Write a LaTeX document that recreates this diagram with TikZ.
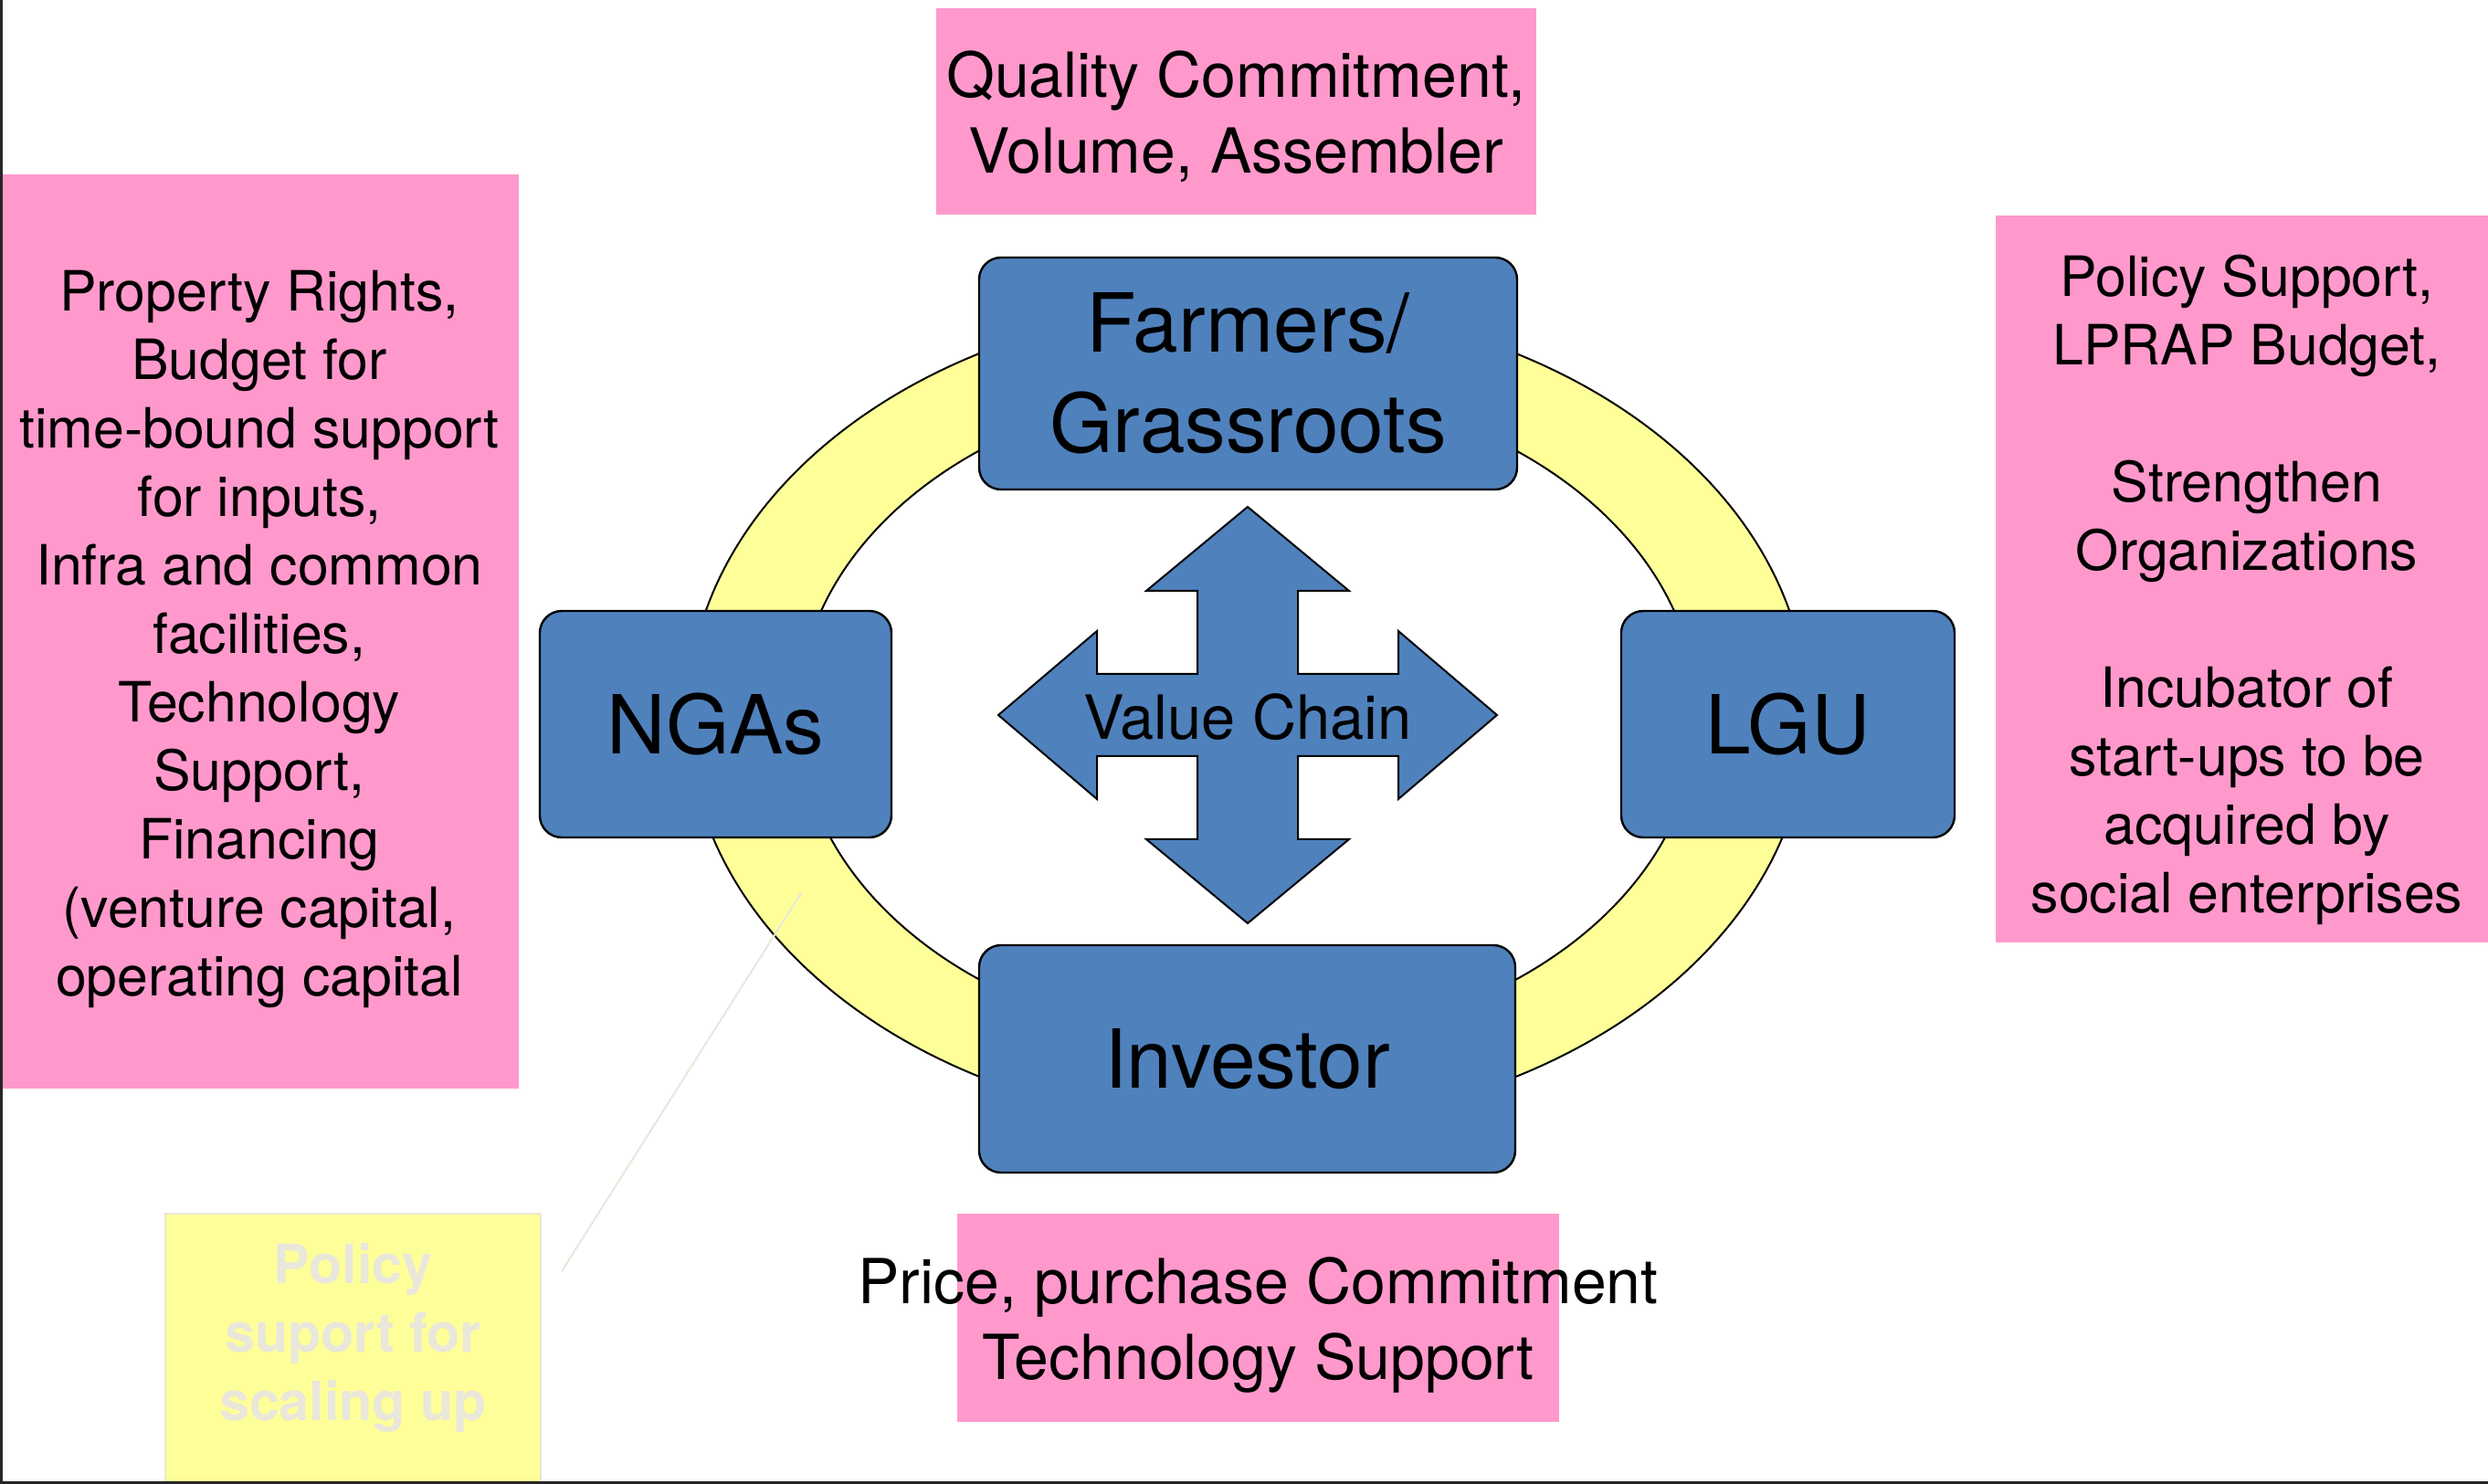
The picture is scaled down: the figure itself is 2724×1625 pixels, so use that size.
\documentclass[tikz,border=0pt]{standalone}
\usepackage{fontspec}
\setmainfont{TeX Gyre Heros}
\definecolor{pinkbox}{HTML}{FF99CC}
\definecolor{ringyellow}{HTML}{FFFF99}
\definecolor{bluebox}{HTML}{4F81BD}
\definecolor{ghost}{HTML}{EAE7DB}
\definecolor{framegray}{HTML}{262626}
\tikzset{
  pinkbox/.style={fill=pinkbox, inner sep=0pt},
  sidetext/.style={inner sep=0pt, align=center, font=\fontsize{15.2pt}{18.75pt}\selectfont},
  toptext/.style={inner sep=0pt, align=center, font=\fontsize{17pt}{20.75pt}\selectfont},
  bluebox/.style={fill=bluebox, draw=black, line width=0.6pt, rounded corners=6pt,
    inner sep=0pt, align=center, font=\fontsize{22.3pt}{27.5pt}\selectfont},
  ghostbox/.style={fill=ringyellow, draw=ghost, line width=0.6pt, inner sep=0pt},
  ghosttext/.style={inner sep=0pt, text=ghost, align=center, font=\bfseries\fontsize{14.8pt}{18.75pt}\selectfont},
  ghostline/.style={draw=ghost, line width=0.5pt},
  crossarrow/.style={fill=bluebox, draw=black, line width=0.5pt, line join=miter}
}
\begin{document}
\begin{tikzpicture}[x=0.25pt, y=-0.25pt]
\useasboundingbox (0,0) rectangle (2724,1625);
\fill[white] (0,0) rectangle (2724,1625);

% ring
\path[fill=ringyellow, draw=black, line width=0.5pt, even odd rule]
  (1366,783) ellipse [x radius=153.25pt, y radius=112.75pt]
  (1366,783) ellipse [x radius=123pt, y radius=90.25pt];

% connector from ghost box
\coordinate (ga) at (615,1392);
\coordinate (gb) at (877,978);
\draw[ghostline] (ga) -- (gb);

% pink boxes
\node[pinkbox, minimum width=142pt, minimum height=250.25pt] (pleft) at (284,691.5) {};
\node[sidetext] (plefttext) at (284,700)
 {Property Rights,\\Budget for\\time-bound support\\for inputs,\\Infra and common\\facilities,\\Technology\\Support,\\Financing\\(venture capital,\\operating capital};
\node[pinkbox, minimum width=134.75pt, minimum height=199pt] (pright) at (2454.5,634) {};
\node[sidetext] (prighttext) at (2460,646)
 {Policy Support,\\LPRAP Budget,\\[18.75pt]Strengthen\\Organizations\\[18.75pt]Incubator of\\start-ups to be\\acquired by\\social enterprises};
\node[pinkbox, minimum width=164.25pt, minimum height=56.5pt] (ptop) at (1353.5,122) {};
\node[toptext] (ptoptext) at (1353.5,128) {Quality Commitment,\\Volume, Assembler};
\node[pinkbox, minimum width=164.75pt, minimum height=57pt] (pbot) at (1377.5,1443) {};
\node[toptext] (pbottext) at (1377.5,1451)
 {Price, purchase Commitment\\Technology Support};

% ghost box
\node[ghostbox, minimum width=102.75pt, minimum height=73.5pt] (gbox) at (386.5,1476) {};
\node[ghosttext] (gtext) at (386.5,1465) {Policy\\suport for\\scaling up};

% blue boxes
\node[bluebox, minimum width=147.25pt, minimum height=63.5pt] (farmers) at (1366.5,409) {Farmers/\\Grassroots};
\node[bluebox, minimum width=96.25pt, minimum height=62pt] (ngas) at (783.5,793) {NGAs};
\node[bluebox, minimum width=91.25pt, minimum height=62pt] (lgu) at (1957.5,793) {LGU};
\node[bluebox, minimum width=146.75pt, minimum height=62.25pt] (investor) at (1365.5,1159.5) {Investor};

% cross arrow
\begin{scope}[shift={(1366,783)}]
\draw[crossarrow]
 (0,-228) -- (111,-136) -- (55,-136) -- (55,-45) -- (165,-45) -- (165,-92) -- (273,0)
 -- (165,92) -- (165,45) -- (55,45) -- (55,136) -- (111,136) -- (0,228)
 -- (-111,136) -- (-55,136) -- (-55,45) -- (-165,45) -- (-165,92) -- (-273,0)
 -- (-165,-92) -- (-165,-45) -- (-55,-45) -- (-55,-136) -- (-111,-136) -- cycle;
\end{scope}
\node[inner sep=0pt, font=\fontsize{16.7pt}{20pt}\selectfont] (vc) at (1366,785) {Value Chain};

% slide frame edges
\draw[framegray, line width=0.8pt] (1.5,0) -- (1.5,1623.5) -- (2724,1623.5);
\end{tikzpicture}
\end{document}
